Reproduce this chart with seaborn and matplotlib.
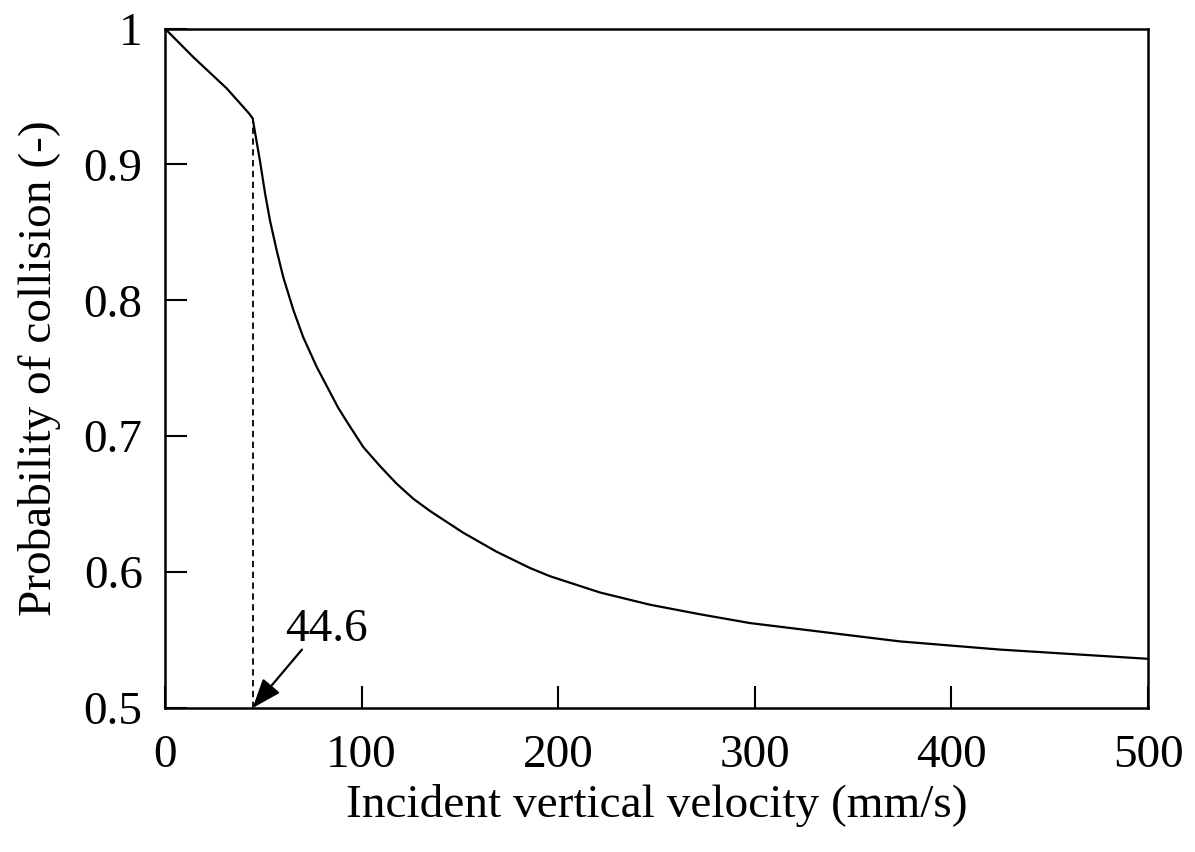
import matplotlib
matplotlib.use("Agg")
import matplotlib.pyplot as plt
import seaborn as sns
import pandas as pd

sns.set_style("ticks")
plt.rcParams["font.family"] = ["Liberation Serif", "DejaVu Serif"]
plt.rcParams["text.color"] = "black"
plt.rcParams["axes.labelcolor"] = "black"
plt.rcParams["xtick.color"] = "black"
plt.rcParams["ytick.color"] = "black"

# values
velocity = [0, 14.4, 31.4, 42.5, 44.6,
            48.3, 50.9, 53.4, 56.8, 60.2, 65.3, 70.3, 77.2, 88.1, 92.4,
            100.9, 109.4, 117.9, 126.3, 134.8, 151.7, 168.7, 185.7, 195.8,
            221.3, 246.7, 272.1, 297.6, 323.0, 373.9, 424.7, 475.6, 500.0]
probability = [1.0, 0.979, 0.956, 0.938, 0.934,
               0.903, 0.879, 0.859, 0.837, 0.817, 0.793, 0.773, 0.751, 0.721, 0.711,
               0.692, 0.678, 0.665, 0.654, 0.645, 0.629, 0.615, 0.603, 0.597,
               0.585, 0.576, 0.569, 0.5625, 0.558, 0.549, 0.543, 0.5384, 0.5362]
critical_v = 44.6
critical_p = 0.934
critical_label = "44.6"

xticks = [0, 100, 200, 300, 400, 500]
yticks = [0.5, 0.6, 0.7, 0.8, 0.9, 1.0]
ytick_labels = ["0.5", "0.6", "0.7", "0.8", "0.9", "1"]

df = pd.DataFrame({"v": velocity, "p": probability})

fig = plt.figure(figsize=(11.95, 8.52), dpi=100)
ax = fig.add_axes([0.138, 0.169, 0.8227, 0.7975])

sns.lineplot(data=df, x="v", y="p", ax=ax, color="black", linewidth=1.6)
ax.plot([critical_v, critical_v], [0.5, critical_p], color="black",
        linestyle=(0, (3.5, 2.5)), linewidth=1.3)

# arrow pointing at the critical velocity, label above it
ax.annotate("", xy=(critical_v, 0.5), xytext=(69.7, 0.543),
            arrowprops=dict(arrowstyle="-|>,head_length=0.45,head_width=0.17",
                            mutation_scale=40, color="black", lw=1.6,
                            shrinkA=0, shrinkB=0))
ax.text(82, 0.5576, critical_label, fontsize=34, ha="center", va="center")

ax.set_xlim(0, 500)
ax.set_ylim(0.5, 1.0)
ax.set_xticks(xticks)
ax.set_yticks(yticks)
ax.set_yticklabels(ytick_labels)
ax.tick_params(direction="in", length=16, width=1.5, labelsize=34,
               top=False, right=False)
ax.tick_params(axis="x", pad=19)
ax.tick_params(axis="y", pad=16)
for s in ax.spines.values():
    s.set_visible(True)
    s.set_linewidth(1.8)
    s.set_color("black")

ax.set_xlabel("Incident vertical velocity (mm/s)", fontsize=34, labelpad=5)
ax.set_ylabel("Probability of collision (-)", fontsize=34, labelpad=16)

fig.savefig("out.png", dpi=100)
